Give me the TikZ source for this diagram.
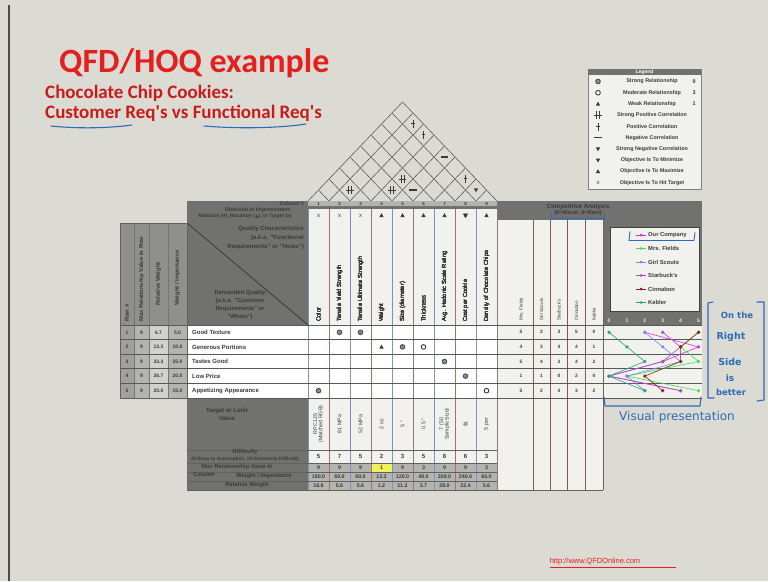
\documentclass[tikz,border=0pt]{standalone}
\usepackage{fontspec}
\setmainfont{Liberation Sans}
\newfontfamily\carlito{Carlito}
\newfontfamily\dejavu{DejaVu Sans}
\usetikzlibrary{calc}
\definecolor{bgc}{HTML}{DBDBD4}
\definecolor{hdr}{HTML}{717170}
\definecolor{midg}{HTML}{8F8F8D}
\definecolor{lg}{HTML}{B3B3B0}
\definecolor{cellw}{HTML}{F1F1ED}
\definecolor{titler}{HTML}{E3201E}
\definecolor{pen}{HTML}{2C6BB8}
\definecolor{ink}{HTML}{3A3A3A}
\definecolor{vbr}{HTML}{8E7B6A}
\definecolor{vbl}{HTML}{7F93B8}
\definecolor{cOur}{HTML}{E02BE0}
\definecolor{cMrs}{HTML}{3FE23F}
\definecolor{cGirl}{HTML}{7A86E6}
\definecolor{cStar}{HTML}{A84CC8}
\definecolor{cCin}{HTML}{8E1E1E}
\definecolor{cKeb}{HTML}{1FA57E}
\definecolor{hl}{HTML}{F2F05A}
\newcommand\fs[1]{\fontsize{#1}{#1}\selectfont}
\newcommand\strongsym[1]{\fill[ink!90] (#1) circle (2.8); \draw[gray!60, line width=0.5pt] (#1) circle (1.3);}
\newcommand\modsym[1]{\draw[ink, line width=0.9pt, fill=white] (#1) circle (2.3);}
\newcommand\upsym[1]{\fill[ink] ($(#1)+(0,-2.3)$) -- ($(#1)+(2.2,1.7)$) -- ($(#1)+(-2.2,1.7)$) -- cycle;}
\newcommand\downsym[1]{\fill[ink] ($(#1)+(0,2.3)$) -- ($(#1)+(2.2,-1.7)$) -- ($(#1)+(-2.2,-1.7)$) -- cycle;}
\newcommand\possym[1]{\draw[ink, line width=0.55pt] ($(#1)+(0,-4)$) -- ($(#1)+(0,4)$) ($(#1)+(-1.6,-0.5)$) -- ($(#1)+(1.6,-0.5)$);}
\newcommand\spossym[1]{\draw[ink, line width=0.55pt] ($(#1)+(-1.6,-4)$) -- ($(#1)+(-1.6,4)$) ($(#1)+(1.6,-4)$) -- ($(#1)+(1.6,4)$) ($(#1)+(-3.6,0)$) -- ($(#1)+(3.6,0)$);}
\newcommand\negsym[1]{\draw[ink, line width=1.3pt] ($(#1)+(-3.8,0)$) -- ($(#1)+(3.8,0)$);}
\tikzset{
  tx/.style={inner sep=0pt, text=ink, font=\fs{6}},
  txb/.style={inner sep=0pt, text=ink, font=\bfseries\fs{6}},
  rowline/.style={draw=ink!85, line width=0.7pt},
  roofline/.style={draw=gray!75!black, line width=0.6pt},
  pencil/.style={draw=pen, line width=1.1pt, line cap=round, line join=round},
  pentext/.style={text=pen, inner sep=0pt, font=\dejavu\fs{8.5}},
  sline/.style={line width=0.6pt},
}
\begin{document}
\begin{tikzpicture}[x=1pt,y=-1pt]
\useasboundingbox (0,0) rectangle (768,581);
\fill[bgc] (0,0) rectangle (768,581);
\draw[gray!60!black, line width=1.4pt] (9,5) -- (9,581);
% ---------------- title
\node[anchor=base west, inner sep=0pt, text=titler, font=\carlito\bfseries\fs{34}] (title) at (59,72) {QFD/HOQ example};
\node[anchor=base west, inner sep=0pt, text=titler!88!black, font=\carlito\bfseries\fs{19}] (sub1) at (45,98) {Chocolate Chip Cookies:};
\node[anchor=base west, inner sep=0pt, text=titler!88!black, font=\carlito\bfseries\fs{19}] (sub2) at (45,118.5) {Customer Req's vs Functional Req's};
\draw[pencil] (51,126) .. controls (80,129) and (110,128) .. (132,125);
\draw[pencil] (204,126) .. controls (240,129) and (280,128) .. (306,124);
% ---------------- legend
\fill[cellw, draw=gray] (588,69) rectangle (701,189);
\fill[hdr] (588,69) rectangle (701,75);
\node[txb, text=white, font=\bfseries\fs{5}] (legt) at (644.5,72) {Legend};
\strongsym{598,81.5}
\modsym{598,92.75}
\upsym{598,104}
\spossym{598,115.25}
\possym{598,126.5}
\negsym{598,137.75}
\downsym{598,149}
\downsym{598,160.25}
\upsym{598,171.5}
\node[tx, font=\fs{6}] (lx) at (598,182.5) {x};
\foreach \i/\t in {1/Strong Relationship, 2/Moderate Relationship, 3/Weak Relationship, 4/Strong Positive Correlation, 5/Positive Correlation, 6/Negative Correlation, 7/Strong Negative Correlation, 8/Objective Is To Minimize, 9/Objective Is To Maximize, 10/Objective Is To Hit Target}
  \node[txb, font=\bfseries\fs{5.4}] (lt\i) at (652,{81.5+11.25*(\i-1)}) {\t};
\node[txb, font=\bfseries\fs{5.4}] (lv1) at (694,81.5) {9};
\node[txb, font=\bfseries\fs{5.4}] (lv2) at (694,92.75) {3};
\node[txb, font=\bfseries\fs{5.4}] (lv3) at (694,104) {1};
% ---------------- roof
\foreach \k in {0,...,9}{
  \draw[roofline] (308+21*\k,201) -- ++({10.5*(9-\k)},{-11*(9-\k)});
  \draw[roofline] (308+21*\k,201) -- ++({-10.5*\k},{-11*\k});
}
\possym{413,124}
\possym{423.5,135}
\negsym{444.5,157}
\possym{465.5,179}
\downsym{476,190}
\spossym{402.5,179}
\spossym{392,190}
\negsym{413,190}
\spossym{350,190}
% ---------------- fills
\fill[hdr] (187,201) rectangle (308,325);
\fill[lg] (308,201) rectangle (497,206);
\fill[hdr] (308,206) rectangle (497,209);
\fill[cellw] (308,209) rectangle (497,325);
\fill[midg] (120,223) rectangle (187,325);
\fill[hdr] (497,201) rectangle (702,220);
\fill[cellw] (497,220) rectangle (603,490);
\fill[hdr] (603,220) rectangle (702,325);
\fill[cellw] (610,227) rectangle (699,311);
\fill[cellw] (603,325) rectangle (702,398);
\fill[midg!85] (120,325) rectangle (134,398);
\fill[lg] (134,325) rectangle (149,398);
\fill[lg!60!white] (149,325) rectangle (168,398);
\fill[lg] (168,325) rectangle (187,398);
\fill[white] (187,325) rectangle (497,398);
\fill[hdr] (187,398) rectangle (308,490);
\fill[cellw] (308,398) rectangle (497,463);
\fill[lg] (308,463) rectangle (497,490);
\fill[hl] (371.5,463.5) rectangle (391.5,471.5);
% ---------------- grid lines
\foreach \k in {0,...,9}{
  \ifodd\k \draw[vbr, sline] (308+21*\k,209) -- (308+21*\k,490);
  \else \draw[vbl, sline] (308+21*\k,209) -- (308+21*\k,490); \fi
}
\foreach \x in {533,550,567.5,585.5,603}
  \draw[vbr!80!black, sline] (\x,220) -- (\x,490);
\foreach \x in {134,149,168,187}
  \draw[ink!70, sline] (\x,223) -- (\x,398);
\foreach \r in {0,...,5}
  \draw[rowline] (120,325+14.6*\r) -- (702,325+14.6*\r);
\foreach \y in {450,463,472,481,490}
  \draw[ink!80, sline] (187,\y) -- (497,\y);
\draw[ink, line width=0.8pt] (187,223) -- (308,325);
\draw[ink!80, sline] (120,223) rectangle (187,398);
\draw[ink!80, sline] (497,490) -- (603,490);
\draw[gray!50!black, sline] (610,227) rectangle (699,311);
% ---------------- header texts
\node[txb, anchor=east, font=\bfseries\fs{5.3}] (colh) at (304,203.5) {Column \#};
\node[txb, font=\bfseries\fs{5.3}] (dirh) at (258,209.8) {Direction of Improvement:};
\node[txb, font=\bfseries\fs{5}] (dirh2) at (245,216.5) {Minimize ({\dejavu\fs{4}▼}), Maximize ({\dejavu\fs{4}▲}), or Target (x)};
\node[txb, align=right, anchor=north east, font=\bfseries\fs{6}] (qch) at (304,226) {Quality Characteristics\\[3pt](a.k.a. "Functional\\[3pt]Requirements" or "Hows")};
\node[txb, align=center, font=\bfseries\fs{5.8}] (dqh) at (240,305) {Demanded Quality\\[2.2pt](a.k.a. "Customer\\[2.2pt]Requirements" or\\[2.2pt]"Whats")};
\node[txb, rotate=90, anchor=west, font=\bfseries\fs{5.8}] (lh1) at (127,322) {Row \#};
\node[txb, rotate=90, anchor=west, font=\bfseries\fs{5.8}] (lh2) at (141.5,322) {Max Relationship Value in Row};
\node[txb, rotate=90, font=\bfseries\fs{5.8}] (lh3) at (158.5,284) {Relative Weight};
\node[txb, rotate=90, font=\bfseries\fs{5.8}] (lh4) at (177.5,278) {Weight / Importance};
% column numbers and directions
\foreach \k in {1,...,9}
  \node[txb, font=\bfseries\fs{4.5}] (cn\k) at (297.5+21*\k,203.5) {\k};
\foreach \k in {1,2,3}
  \node[tx, font=\fs{6}] (dx\k) at (297.5+21*\k,215.5) {x};
\foreach \k in {4,5,6,7,9}
  \upsym{297.5+21*\k,215.5}
\downsym{465.5,215.5}
% quality characteristics
\foreach \k/\t in {1/Color, 2/Tensile Yield Strength, 3/Tensile Ultimate Strength, 4/Weight, 5/{Size (diameter)}, 6/Thickness, 7/Avg. Hedonic Scale Rating, 8/Cost per Cookie, 9/Density of Chocolate Chips}
  \node[tx, rotate=90, anchor=west, font=\fs{5.9}] (qc\k) at (297.5+21*\k,322) {\t};
% ---------------- rows
\foreach \i/\m/\rw/\wi/\dq in {1/9/6.7/5.0/Good Texture, 2/9/13.3/10.0/Generous Portions, 3/9/33.3/25.0/Tastes Good, 4/9/26.7/20.0/Low Price, 5/9/20.0/15.0/Appetizing Appearance}{
  \node[txb, font=\bfseries\fs{5}] (rn\i) at (127,{325+14.6*(\i-0.5)}) {\i};
  \node[txb, font=\bfseries\fs{5}] (rm\i) at (141.5,{325+14.6*(\i-0.5)}) {\m};
  \node[txb, font=\bfseries\fs{5}] (rr\i) at (158.5,{325+14.6*(\i-0.5)}) {\rw};
  \node[txb, font=\bfseries\fs{5}] (rw\i) at (177.5,{325+14.6*(\i-0.5)}) {\wi};
  \node[txb, anchor=west, font=\bfseries\fs{6}] (dq\i) at (192,{325+14.6*(\i-0.5)}) {\dq};
}
% relationships
\strongsym{339.5,332.3}
\strongsym{360.5,332.3}
\upsym{381.5,346.9}
\strongsym{402.5,346.9}
\modsym{423.5,346.9}
\strongsym{444.5,361.5}
\strongsym{465.5,376.1}
\strongsym{318.5,390.7}
\modsym{486.5,390.7}
% competitor values
\foreach \i/\a/\b/\c/\d/\e in {1/5/2/3/5/0, 2/4/3/4/4/1, 3/5/4/3/4/2, 4/1/1/0/2/0, 5/5/2/4/3/2}{
  \node[txb, font=\bfseries\fs{4.8}] (ca\i) at (521,{325+14.6*(\i-0.5)}) {\a};
  \node[txb, font=\bfseries\fs{4.8}] (cb\i) at (541.5,{325+14.6*(\i-0.5)}) {\b};
  \node[txb, font=\bfseries\fs{4.8}] (cc\i) at (559,{325+14.6*(\i-0.5)}) {\c};
  \node[txb, font=\bfseries\fs{4.8}] (cd\i) at (576.5,{325+14.6*(\i-0.5)}) {\d};
  \node[txb, font=\bfseries\fs{4.8}] (ce\i) at (594,{325+14.6*(\i-0.5)}) {\e};
}
\foreach \x/\t in {521/Mrs. Fields, 541.5/Girl Scouts, 559/Starbuck's, 576.5/Cinnabon, 594/Kebler}
  \node[tx, rotate=90, anchor=west, font=\fs{4.6}] (cn-\t) at (\x,321) {\t};
\node[txb, font=\bfseries\fs{6.2}] (cah) at (578,206.5) {Competitive Analysis};
\node[txb, font=\bfseries\fs{5.6}] (cah2) at (578,213.5) {(0=Worst, 5=Best)};
\draw[pencil, line width=0.9pt] (551,212) -- (551,218.5) -- (604,218.5) -- (604,212);
% ---------------- graph
\foreach \v in {0,...,5}
  \node[txb, text=white!85!gray, font=\bfseries\fs{5}] (ax\v) at ({609+17.9*\v},321) {\v};
\foreach \s/\col/\n/\a/\b/\c/\d/\e in {Our/cOur/1/2/5/3/0/4, Mrs/cMrs/2/5/4/5/1/5, Girl/cGirl/3/2/3/4/1/2, Star/cStar/4/3/4/3/0/4, Cin/cCin/5/5/4/4/2/3, Keb/cKeb/6/0/1/2/0/2}{
  \coordinate (\s1) at ({609+17.9*\a},332.3);
  \coordinate (\s2) at ({609+17.9*\b},346.9);
  \coordinate (\s3) at ({609+17.9*\c},361.5);
  \coordinate (\s4) at ({609+17.9*\d},376.1);
  \coordinate (\s5) at ({609+17.9*\e},390.7);
  \draw[\col, line width=0.6pt] (\s1) -- (\s2) -- (\s3) -- (\s4) -- (\s5);
  \foreach \r in {1,...,5} \fill[\col] (\s\r) circle (1.8);
  \coordinate (lg\n a) at (636,{235+13.5*(\n-1)});
  \coordinate (lg\n b) at (646,{235+13.5*(\n-1)});
  \draw[\col, line width=0.7pt] (lg\n a) -- (lg\n b);
  \fill[\col] ($(lg\n a)!0.5!(lg\n b)$) circle (1.5);
}
\foreach \n/\t in {1/Our Company, 2/Mrs. Fields, 3/Girl Scouts, 4/Starbuck's, 5/Cinnabon, 6/Kebler}
  \node[txb, anchor=west, font=\bfseries\fs{5.8}] (gl\n) at (648,{235+13.5*(\n-1)}) {\t};
\draw[pencil, line width=0.9pt] (630,231.5) -- (629,240.5) -- (694,240.5) -- (695,232.5);
% ---------------- bottom section
\node[txb, align=center, font=\bfseries\fs{6}] (tlv) at (227,414.5) {Target or Limit\\[1.5pt]Value};
\foreach \k/\t in {1/{RPC125\\(Matched RGB)}, 2/81 MPa, 3/52 MPa, 4/2 oz, 5/{5 "}, 6/{0.5 "}, 7/{7 (50\\Sample Size)}, 8/\$1, 9/5 per}
  \node[tx, rotate=90, align=center, font=\fs{5.3}] (tg\k) at (297.5+21*\k,424) {\t};
\node[txb, font=\bfseries\fs{5.8}] (difh) at (245,451.5) {Difficulty};
\node[txb, font=\bfseries\fs{4.8}] (difh2) at (245,459.5) {(0=Easy to Accomplish, 10=Extremely Difficult)};
\node[txb, font=\bfseries\fs{5.8}] (mrh) at (237,466.8) {Max Relationship Value in};
\node[txb, anchor=west, font=\bfseries\fs{5.8}] (mrh2) at (193,474.8) {Column};
\node[txb, font=\bfseries\fs{5.8}] (wih) at (264,476.5) {Weight / Importance};
\node[txb, font=\bfseries\fs{5.8}] (rwh) at (247,485.5) {Relative Weight};
\foreach \k/\d/\m/\w/\r in {1/5/9/180.0/16.8, 2/7/9/60.0/5.6, 3/5/9/60.0/5.6, 4/2/1/13.3/1.2, 5/3/9/120.0/11.2, 6/5/3/40.0/3.7, 7/8/9/300.0/28.0, 8/6/9/240.0/22.4, 9/3/3/60.0/5.6}{
  \node[txb, font=\bfseries\fs{6}] (df\k) at (297.5+21*\k,456.5) {\d};
  \node[txb, font=\bfseries\fs{5.3}] (mx\k) at (297.5+21*\k,467.5) {\m};
  \node[txb, font=\bfseries\fs{5.3}] (wt\k) at (297.5+21*\k,476.5) {\w};
  \node[txb, font=\bfseries\fs{5.3}] (rl\k) at (297.5+21*\k,485.5) {\r};
}
% ---------------- annotations
\draw[pencil] (713,302) -- (708,303) -- (708,398) -- (714,398);
\draw[pencil] (757,302) -- (764,302) -- (764,400) -- (757,401);
\node[pentext, font=\dejavu\bfseries\fs{8.5}] (a1) at (737,315) {On the};
\node[pentext, font=\dejavu\bfseries\fs{9.5}] (a2) at (731,337) {Right};
\node[pentext, font=\dejavu\bfseries\fs{9.5}] (a3) at (730,362) {Side};
\node[pentext, font=\dejavu\bfseries\fs{9}] (a4) at (730,378) {is};
\node[pentext, font=\dejavu\bfseries\fs{8.5}] (a5) at (731,392) {better};
\draw[pencil] (604,397) -- (605,406) -- (700,406) -- (701,397);
\node[pentext, font=\dejavu\fs{12}] (a6) at (677,417) {Visual presentation};
\node[inner sep=0pt, text=titler, font=\fs{7.5}] (url) at (595,562) {http://www.QFDOnline.com};
\draw[titler, line width=0.5pt] (url.south west) ++(0,1.2) -- ++(126,0);
\end{tikzpicture}
\end{document}
